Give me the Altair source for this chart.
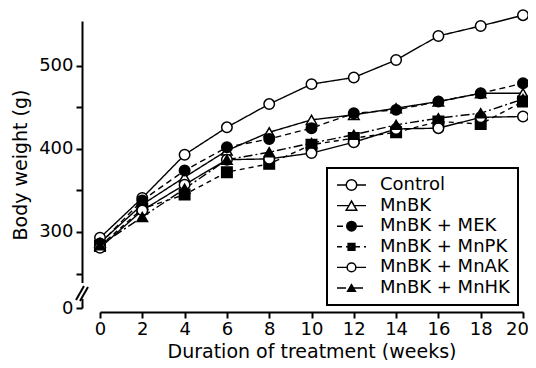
import altair as alt
import pandas as pd

weeks = [0, 2, 4, 6, 8, 10, 12, 14, 16, 18, 20]
names = ["Control", "MnBK", "MnBK + MEK", "MnBK + MnPK", "MnBK + MnAK", "MnBK + MnHK"]
control = [293, 341, 393, 426, 454, 478, 486, 507, 536, 548, 561]
mnbk = [287, 333, 366, 398, 420, 435, 441, 449, 457, 467, 467]
mek = [286, 338, 374, 402, 412, 425, 443, 447, 457, 467, 479]
mnpk = [283, 328, 345, 372, 382, 405, 413, 420, 433, 430, 457]
mnak = [281, 326, 357, 387, 388, 395, 408, 424, 425, 438, 439]
mnhk = [284, 318, 352, 387, 396, 407, 417, 429, 437, 443, 460]
series = [control, mnbk, mek, mnpk, mnak, mnhk]

y_ticks = [0, 250, 300, 350, 400, 450, 500]
y_labels = [0, 300, 400, 500]
x_ticks = list(range(0, 21, 2))

shapes = ["circle", "triangle-up", "circle", "square", "circle", "triangle-up"]
fills = ["white", "white", "black", "black", "white", "black"]
sizes = [110, 110, 90, 45, 75, 60]
dashes = [[1, 0], [1, 0], [6, 4], [5, 4], [1, 0], [9, 3, 2, 3]]

rows = []
for n, vals in zip(names, series):
    for w, v in zip(weeks, vals):
        rows.append({"week": w, "weight": v, "group": n})
df = pd.DataFrame(rows)

W, H = 423, 287
FONT = "DejaVu Sans"

xs = alt.Scale(domain=[0, 20], nice=False)
ys = alt.Scale(domain=[0, 250, 554], range=[H, 252.5, 0], nice=False, zero=False)

label_test = " || ".join(f"datum.value == {v}" for v in y_labels)

lines = alt.Chart(df).mark_line(color="black", strokeWidth=1.4).encode(
    x=alt.X("week:Q", scale=xs,
            axis=alt.Axis(values=x_ticks, title="Duration of treatment (weeks)", offset=4,
                          labelFlush=False,
                          labelOffset={"condition": {"test": "datum.value == 20", "value": -6}, "value": 0})),
    y=alt.Y("weight:Q", scale=ys,
            axis=alt.Axis(values=y_ticks, title="Body weight (g)", offset=18,
                          labelExpr=f"({label_test}) ? datum.label : ''")),
    strokeDash=alt.StrokeDash("group:N", scale=alt.Scale(domain=names, range=dashes), legend=None),
    detail="group:N",
)

points = alt.Chart(df).mark_point(filled=True, stroke="black", strokeWidth=1.5, opacity=1).encode(
    x=alt.X("week:Q", scale=xs),
    y=alt.Y("weight:Q", scale=ys),
    shape=alt.Shape("group:N", scale=alt.Scale(domain=names, range=shapes), legend=None),
    fill=alt.Fill("group:N", scale=alt.Scale(domain=names, range=fills), legend=None),
    size=alt.Size("group:N", scale=alt.Scale(domain=names, range=sizes), legend=None),
)

# axis break on the y axis
gap = alt.Chart(pd.DataFrame({"k": [0]})).mark_rect(fill="white").encode(
    x=alt.value(-23), x2=alt.value(-13), y=alt.value(262), y2=alt.value(278))
slash1 = alt.Chart(pd.DataFrame({"k": [0]})).mark_rule(color="black", strokeWidth=2).encode(
    x=alt.value(-24), x2=alt.value(-16), y=alt.value(279), y2=alt.value(265))
slash2 = alt.Chart(pd.DataFrame({"k": [0]})).mark_rule(color="black", strokeWidth=2).encode(
    x=alt.value(-20), x2=alt.value(-12), y=alt.value(280), y2=alt.value(266))

# legend box
box = alt.Chart(pd.DataFrame({"k": [0]})).mark_rect(fill="white", stroke="black", strokeWidth=2).encode(
    x=alt.value(227), x2=alt.value(418), y=alt.value(147), y2=alt.value(284))

legend_layers = [box]
for i, n in enumerate(names):
    yy = 164 + i * 20.6
    d = pd.DataFrame({"label": [n]})
    legend_layers.append(alt.Chart(d).mark_rule(color="black", strokeWidth=1.4, strokeDash=dashes[i]).encode(
        x=alt.value(237), x2=alt.value(266), y=alt.value(yy)))
    legend_layers.append(alt.Chart(d).mark_point(filled=True, stroke="black", strokeWidth=1.5,
                                                 shape=shapes[i], fill=fills[i], size=sizes[i], opacity=1).encode(
        x=alt.value(251.5), y=alt.value(yy)))
    legend_layers.append(alt.Chart(d).mark_text(align="left", baseline="middle", fontSize=18, font=FONT,
                                                color="black").encode(
        x=alt.value(280), y=alt.value(yy), text=alt.Text("label:N")))

chart = alt.layer(lines, points, gap, slash1, slash2, *legend_layers).properties(
    width=W, height=H,
    autosize=alt.AutoSizeParams(type="none"),
    padding={"left": 92, "top": 13, "right": 5, "bottom": 52},
).configure_view(stroke=None).configure_axis(
    grid=False, domainColor="black", domainWidth=2, tickColor="black", tickWidth=2, tickSize=6,
    labelFont=FONT, labelFontSize=18, labelColor="black", labelPadding=3,
    titleFont=FONT, titleFontSize=19, titleColor="black", titleFontWeight="normal",
).configure_axisX(titlePadding=4, labelPadding=2).configure_axisY(titlePadding=8)

chart.save("out.html", embed_options={"renderer": "svg", "actions": False})
